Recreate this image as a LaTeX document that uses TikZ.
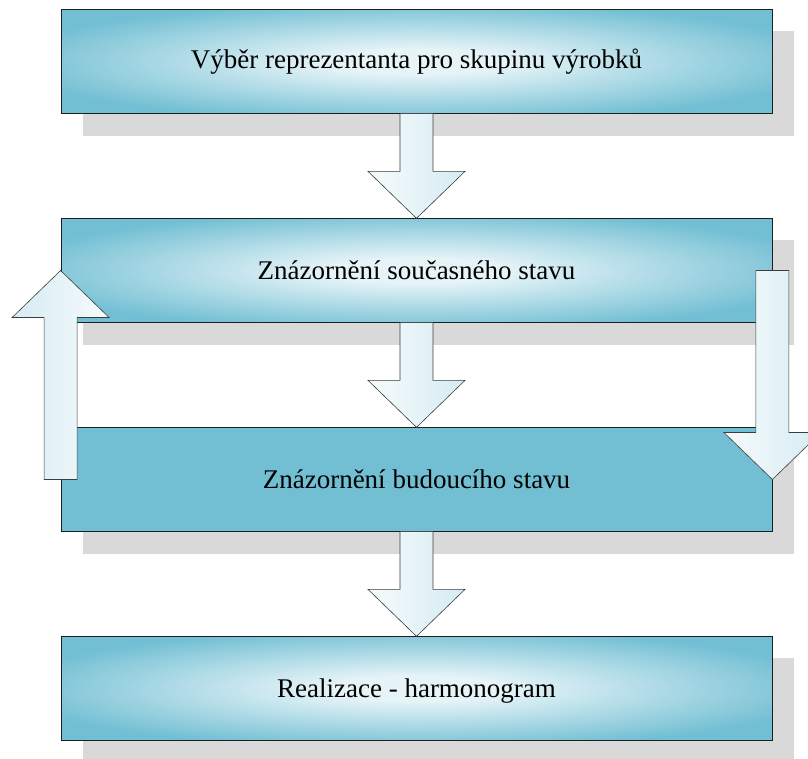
\documentclass[tikz,border=0pt]{standalone}
\usepackage{fontspec}
\setmainfont{Liberation Serif}
\usetikzlibrary{calc,backgrounds}

\definecolor{tealc}{RGB}{114,191,211}
\definecolor{glowc}{RGB}{230,244,248}
\definecolor{shadowc}{RGB}{217,217,217}
\definecolor{arrowL}{RGB}{247,251,252}
\definecolor{arrowR}{RGB}{212,236,243}
\definecolor{edgec}{RGB}{30,30,30}
\definecolor{arrowedge}{RGB}{60,60,60}

% light glow in the middle of a box, teal towards its edges
\pgfdeclareradialshading{boxglow}{\pgfpoint{0bp}{0bp}}{%
  color(0bp)=(glowc); color(6bp)=(glowc); color(29bp)=(tealc); color(50bp)=(tealc)}

% block arrow from #1 to its tip #2, filled with style #3
\newcommand{\blockarrow}[3]{%
  \coordinate (hb) at ($(#2)!47pt!(#1)$);
  \draw[arrowline,#3]
    ($(#1)!16.5pt!90:(#2)$) -- ($(hb)!16.5pt!90:(#2)$) -- ($(hb)!48.5pt!90:(#2)$)
    -- (#2)
    -- ($(hb)!48.5pt!-90:(#2)$) -- ($(hb)!16.5pt!-90:(#2)$) -- ($(#1)!16.5pt!-90:(#2)$)
    -- cycle;
}

\begin{document}
\begin{tikzpicture}[x=1pt,y=-1pt,
  box/.style={draw=edgec, line width=0.8pt, minimum width=711pt,
    minimum height=103.5pt, inner sep=0pt, text height=17pt, text depth=0pt,
    font=\fontsize{27}{30}\selectfont},
  glowbox/.style={box, shading=boxglow},
  flatbox/.style={box, fill=tealc},
  arrowline/.style={draw=arrowedge, line width=0.6pt, line join=miter},
  downfill/.style={left color=arrowL, right color=arrowR},
  upfill/.style={left color=arrowR, right color=arrowL}]
\useasboundingbox (0,0) rectangle (808,758);

\node[glowbox, text height=13pt] (b1) at (416.5,61.5) {Výběr reprezentanta pro skupinu výrobků};
\node[glowbox] (b2) at (416.5,270.5) {Znázornění současného stavu};
\node[flatbox] (b3) at (416.5,479.5) {Znázornění budoucího stavu};
\node[glowbox] (b4) at (416.5,688.5) {Realizace - harmonogram};

\begin{scope}[on background layer]
  \foreach \b in {b1,b2,b3,b4}
    \fill[shadowc] ($(\b.north west)+(22,22)$) rectangle ($(\b.south east)+(22,22)$);
\end{scope}

\blockarrow{b1.south}{b2.north}{downfill}
\blockarrow{b2.south}{b3.north}{downfill}
\blockarrow{b3.south}{b4.north}{downfill}
\blockarrow{b3.west}{b2.west}{upfill}
\blockarrow{b2.east}{b3.east}{downfill}
\end{tikzpicture}
\end{document}
